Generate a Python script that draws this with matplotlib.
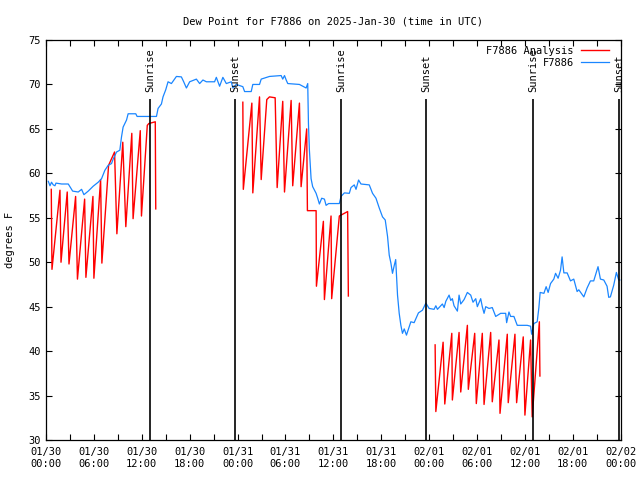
import matplotlib
matplotlib.use('Agg')
import matplotlib.pyplot as plt
import matplotlib.dates as mdates
import numpy as np
import pandas as pd

start = pd.Timestamp('2025-01-30 00:00')

# station observations (hours since start, deg F)
obs_hours = [0.29, 0.5, 0.69, 0.91, 1.12, 1.25, 1.96, 2.79, 3.0, 3.34, 4.04, 4.46, 4.75, 5.29,
             5.91, 6.54, 6.96, 7.38, 7.79, 8.21, 8.41, 8.84, 9.25, 9.46, 9.66, 10.09, 10.29,
             11.25, 11.41, 13.84, 14.04, 14.46, 14.66, 15.0, 15.29, 15.71, 16.34, 16.96, 17.25,
             17.59, 18.0, 18.84, 19.25, 19.66, 20.09, 21.12, 21.34, 21.75, 22.16, 22.59, 23.21,
             23.41, 23.84, 24.66, 24.88, 25.71, 25.91, 26.75, 26.96, 28.0, 29.46, 29.66, 29.88,
             30.09, 30.29, 31.75, 32.59, 32.79, 32.88, 33.0, 33.21, 33.41, 33.84, 34.04, 34.25,
             34.54, 34.88, 35.09, 35.41, 36.75, 36.96, 37.38, 38.0, 38.21, 38.62, 38.84, 39.16,
             39.46, 40.5, 40.91, 41.34, 41.75, 42.16, 42.5, 42.79, 43.0, 43.21, 43.41, 43.62,
             43.81, 44.04, 44.25, 44.46, 44.66, 44.88, 45.16, 45.71, 46.12, 46.66, 47.16, 47.59,
             48.0, 48.62, 48.84, 49.04, 49.66, 49.88, 50.09, 50.5, 50.71, 50.91, 51.12, 51.54,
             51.75, 51.96, 52.38, 52.79, 53.21, 53.5, 53.84, 54.04, 54.46, 54.66, 54.88, 55.09,
             55.5, 55.91, 56.34, 56.96, 57.59, 57.71, 58.0, 58.21, 58.62, 59.04, 60.29, 60.71,
             60.84, 61.12, 61.54, 61.75, 61.91, 62.38, 62.66, 62.91, 63.21, 63.62, 63.84, 64.16,
             64.46, 64.66, 64.88, 65.29, 65.71, 66.12, 66.54, 66.75, 67.38, 67.79, 68.21, 68.62,
             69.16, 69.46, 69.88, 70.29, 70.5, 70.71, 71.12, 71.46, 71.75, 71.88]
obs_dewpt = [59.1, 58.6, 59.0, 58.7, 58.6, 58.9, 58.8, 58.8, 58.5, 58.0, 57.9, 58.2, 57.6, 58.0,
             58.55, 59.0, 59.4, 60.35, 60.9, 61.1, 61.6, 62.4, 62.6, 64.1, 65.2, 66.0, 66.7,
             66.7, 66.4, 66.4, 67.3, 67.8, 68.6, 69.4, 70.3, 70.1, 70.9, 70.85, 70.3,
             69.6, 70.3, 70.6, 70.1, 70.5, 70.3, 70.3, 70.8, 69.8, 70.8, 70.1, 70.3,
             69.6, 70.0, 69.75, 69.2, 69.2, 70.0, 70.0, 70.6, 70.9, 71.0, 70.6, 71.0,
             70.5, 70.1, 70.0, 69.6, 70.1, 65.6, 62.6, 59.4, 58.5, 57.75, 57.2, 56.55,
             57.2, 57.1, 56.4, 56.6, 56.6, 57.4, 57.8, 57.75, 58.4, 58.7, 58.2, 59.25,
             58.8, 58.7, 57.75, 57.2, 56.1, 55.1, 54.75, 52.9, 50.8, 49.9, 48.75, 49.6,
             50.3, 46.3, 44.25, 42.9, 42.0, 42.5, 41.8, 43.3, 43.2, 44.3, 44.6, 45.4,
             44.8, 44.7, 45.1, 44.7, 45.3, 44.9, 45.6, 46.3, 45.7, 45.9, 45.1, 44.5,
             46.3, 45.3, 45.8, 46.6, 46.3, 45.5, 45.9, 45.0, 45.9, 45.0, 44.25, 45.0,
             44.8, 44.9, 43.9, 44.25, 44.25, 43.2, 44.4, 43.9, 43.9, 42.9, 42.9, 42.8,
             41.9, 43.1, 43.3, 44.9, 46.6, 46.5, 47.25, 46.6, 47.6, 48.1, 48.75, 48.2,
             49.1, 50.6, 48.8, 48.8, 47.9, 48.1, 46.7, 46.9, 46.1, 47.1, 47.9, 47.9,
             49.5, 48.1, 48.0, 47.3, 46.05, 46.1, 47.4, 48.85, 48.0, 48.0]

# analysis, three runs
ana1_hours = [0.66, 0.75, 1.75, 1.88, 2.66, 2.88, 3.71, 3.94, 4.84, 5.0, 5.88, 6.0, 6.84, 7.0,
              7.84, 8.59, 8.88, 9.62, 10.0, 10.75, 10.91, 11.81, 11.96, 12.69, 12.88, 13.69, 13.75]
ana1_dewpt = [58.2, 49.2, 58.1, 50.0, 57.9, 49.8, 57.4, 48.1, 57.1, 48.3, 57.4, 48.2, 59.3, 49.9,
              60.9, 62.4, 53.2, 63.5, 54.0, 64.5, 54.9, 64.8, 55.2, 65.4, 65.6, 65.8, 56.0]

ana2_hours = [24.66, 24.72, 25.79, 25.91, 26.75, 26.96, 27.66, 28.0, 28.71, 28.96, 29.66, 29.88,
              30.71, 30.91, 31.75, 31.96, 32.66, 32.75, 33.84, 33.88, 34.75, 34.88, 35.71, 35.79,
              36.75, 37.79, 37.88]
ana2_dewpt = [68.0, 58.2, 67.9, 57.8, 68.6, 59.3, 68.3, 68.6, 68.5, 58.4, 68.1, 57.9,
              68.2, 58.6, 67.9, 58.5, 65.0, 55.8, 55.8, 47.3, 54.6, 45.8, 55.2, 45.9,
              55.2, 55.7, 46.2]

ana3_hours = [48.75, 48.84, 49.75, 49.96, 50.84, 50.91, 51.75, 51.96, 52.79, 52.91, 53.71, 53.91,
              54.66, 54.88, 55.71, 55.91, 56.75, 56.88, 57.79, 57.91, 58.75, 58.96, 59.79, 60.0,
              60.71, 60.91, 61.81, 61.88]
ana3_dewpt = [40.7, 33.2, 41.0, 34.05, 42.0, 34.5, 42.1, 35.4, 42.9, 35.7, 42.0, 34.1,
              42.0, 34.0, 42.1, 34.3, 41.25, 33.0, 41.9, 34.2, 41.9, 34.2, 41.6, 32.8,
              41.25, 32.6, 43.3, 37.2]

sun_hours = [13.05, 23.65, 36.97, 47.65, 61.06, 71.76]
sun_labels = ['Sunrise', 'Sunset', 'Sunrise', 'Sunset', 'Sunrise', 'Sunset']


def to_time(hours):
    return (start + pd.to_timedelta(np.array(hours), unit='h')).to_numpy()


plt.rcParams['font.family'] = ['DejaVu Sans Mono']
plt.rcParams['font.size'] = 7.5

fig = plt.figure(figsize=(6.4, 4.8), dpi=100)
ax = fig.add_axes([46 / 640, 40 / 480, 574.7 / 640, 400 / 480])

red = '#ff0000'
blue = '#1a86ff'
ax.plot(to_time(ana1_hours), ana1_dewpt, color=red, lw=1.0, label='F7886 Analysis')
ax.plot(to_time(ana2_hours), ana2_dewpt, color=red, lw=1.0)
ax.plot(to_time(ana3_hours), ana3_dewpt, color=red, lw=1.0)
ax.plot(to_time(obs_hours), obs_dewpt, color=blue, lw=0.9, label='F7886')

for h, lab in zip(sun_hours, sun_labels):
    t = to_time([h])[0]
    ax.vlines(t, 30, 68.4, color='black', lw=1.2)
    ax.text(t, 69.1, lab, rotation=90, ha='center', va='bottom')

ax.set_xlim(to_time([0])[0], to_time([72])[0])
ax.set_ylim(30, 75)
ax.set_yticks(range(30, 80, 5))
ax.xaxis.set_major_locator(mdates.HourLocator(byhour=[0, 6, 12, 18]))
ax.xaxis.set_minor_locator(mdates.HourLocator(byhour=[3, 9, 15, 21]))
ax.xaxis.set_major_formatter(mdates.DateFormatter('%m/%d\n%H:%M'))
for lbl in ax.get_xticklabels():
    lbl.set_linespacing(1.25)
ax.tick_params(which='both', direction='in', length=4.5, width=0.8, top=True, right=True)
ax.tick_params(axis='x', pad=5)
ax.tick_params(axis='y', pad=4)
for s in ax.spines.values():
    s.set_linewidth(0.9)

ax.set_title('Dew Point for F7886 on 2025-Jan-30 (time in UTC)', pad=11, fontsize=7.5)
ax.set_ylabel('degrees F')
ax.yaxis.set_label_coords(-0.054, 0.5)

ax.legend(loc='upper right', frameon=False, markerfirst=False, handlelength=2.7,
          handletextpad=0.7, labelspacing=0.15, borderpad=0, borderaxespad=0,
          bbox_to_anchor=(0.98, 0.985))

fig.savefig('out.png', dpi=100)
